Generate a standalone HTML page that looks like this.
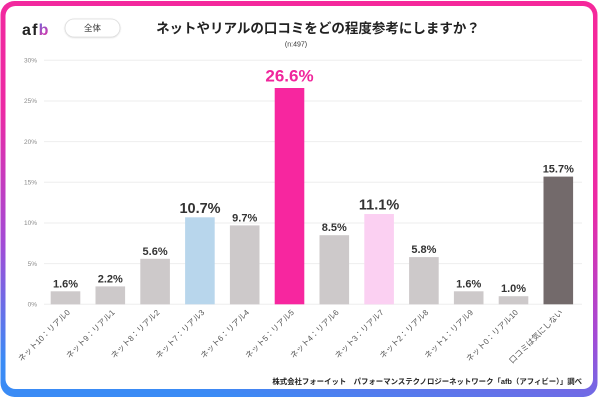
<!DOCTYPE html>
<html><head><meta charset="utf-8"><style>
html,body{margin:0;padding:0;background:#fff;}
svg{display:block;}
text{font-family:"Liberation Sans","Noto Sans CJK JP",sans-serif;}
</style></head><body>
<svg width="600" height="400" viewBox="0 0 600 400" xmlns="http://www.w3.org/2000/svg">
<defs>
<linearGradient id="fr" x1="0.62" y1="0" x2="0.38" y2="1">
<stop offset="0" stop-color="#f5289b"/>
<stop offset="0.4" stop-color="#ec2aa4"/>
<stop offset="0.72" stop-color="#a24bd6"/>
<stop offset="1" stop-color="#3a8bf5"/>
</linearGradient>
<linearGradient id="lb" x1="0" y1="0" x2="1" y2="1">
<stop offset="0" stop-color="#3d7ff0"/>
<stop offset="1" stop-color="#ee2a9e"/>
</linearGradient>
<filter id="sh" x="-20%" y="-40%" width="140%" height="180%">
<feDropShadow dx="0" dy="0.5" stdDeviation="0.8" flood-color="#000" flood-opacity="0.15"/>
</filter>
</defs>
<rect x="0.5" y="1" width="597" height="396" rx="14" fill="url(#fr)"/>
<rect x="5.5" y="6" width="587.5" height="383" rx="10" fill="#fff"/>

<!-- logo -->
<text x="22" y="35" font-size="16" font-weight="bold" fill="#222" letter-spacing="1.2">af<tspan fill="url(#lb)">b</tspan></text>
<rect x="65" y="19" width="55" height="18" rx="9" fill="#fff" stroke="#dcdcdc" stroke-width="0.8" filter="url(#sh)"/>
<text x="92.5" y="31" font-size="8.5" fill="#333" text-anchor="middle">全体</text>

<!-- title -->
<text x="318" y="33" font-size="13.5" font-weight="bold" fill="#222" text-anchor="middle">ネットやリアルの口コミをどの程度参考にしますか？</text>
<text x="296" y="46.5" font-size="7" fill="#333" text-anchor="middle">(n:497)</text>

<!-- grid -->
<g stroke="#eeeeee" stroke-width="1">
<line x1="44" y1="60.3" x2="582" y2="60.3"/>
<line x1="44" y1="101" x2="582" y2="101"/>
<line x1="44" y1="141.6" x2="582" y2="141.6"/>
<line x1="44" y1="182.3" x2="582" y2="182.3"/>
<line x1="44" y1="223" x2="582" y2="223"/>
<line x1="44" y1="263.6" x2="582" y2="263.6"/>
<line x1="44" y1="304.3" x2="582" y2="304.3"/>
</g>
<g font-size="6.5" fill="#8a8a8a" text-anchor="end">
<text x="37" y="62.5">30%</text>
<text x="37" y="103.2">25%</text>
<text x="37" y="143.8">20%</text>
<text x="37" y="184.5">15%</text>
<text x="37" y="225.2">10%</text>
<text x="37" y="265.8">5%</text>
<text x="37" y="306.5">0%</text>
</g>

<!-- bars -->
<rect x="50.7" y="291.3" width="29.6" height="13" fill="#cdc9ca"/>
<rect x="95.5" y="286.4" width="29.6" height="17.9" fill="#cdc9ca"/>
<rect x="140.3" y="258.8" width="29.6" height="45.5" fill="#cdc9ca"/>
<rect x="185.1" y="217.3" width="29.6" height="87" fill="#b8d6ec"/>
<rect x="229.9" y="225.4" width="29.6" height="78.9" fill="#cdc9ca"/>
<rect x="274.7" y="88" width="29.6" height="216.3" fill="#f7269f"/>
<rect x="319.5" y="235.2" width="29.6" height="69.1" fill="#cdc9ca"/>
<rect x="364.3" y="214" width="29.6" height="90.3" fill="#fbd0f2"/>
<rect x="409.1" y="257.1" width="29.6" height="47.2" fill="#cdc9ca"/>
<rect x="453.9" y="291.3" width="29.6" height="13" fill="#cdc9ca"/>
<rect x="498.7" y="296.2" width="29.6" height="8.1" fill="#cdc9ca"/>
<rect x="543.5" y="176.6" width="29.6" height="127.7" fill="#736a6b"/>

<!-- value labels -->
<g font-weight="bold" fill="#333" text-anchor="middle" font-size="11">
<text x="65.5" y="287.3">1.6%</text>
<text x="110.3" y="282.4">2.2%</text>
<text x="155.1" y="254.8">5.6%</text>
<text x="200" y="212.8" font-size="14.5">10.7%</text>
<text x="244.7" y="221.4">9.7%</text>
<text x="289.5" y="81.7" font-size="17" fill="#f0269c">26.6%</text>
<text x="334.3" y="231.2">8.5%</text>
<text x="379.1" y="209.6" font-size="14.5">11.1%</text>
<text x="423.9" y="253.1">5.8%</text>
<text x="468.7" y="287.3">1.6%</text>
<text x="513.5" y="292.2">1.0%</text>
<text x="558.3" y="172.6">15.7%</text>
</g>

<!-- x labels -->
<g font-size="8" fill="#555" text-anchor="end">
<text transform="translate(70.5,313) rotate(-45)">ネット10：リアル0</text>
<text transform="translate(115.3,313) rotate(-45)">ネット9：リアル1</text>
<text transform="translate(160.1,313) rotate(-45)">ネット8：リアル2</text>
<text transform="translate(204.9,313) rotate(-45)">ネット7：リアル3</text>
<text transform="translate(249.7,313) rotate(-45)">ネット6：リアル4</text>
<text transform="translate(294.5,313) rotate(-45)">ネット5：リアル5</text>
<text transform="translate(339.3,313) rotate(-45)">ネット4：リアル6</text>
<text transform="translate(384.1,313) rotate(-45)">ネット3：リアル7</text>
<text transform="translate(428.9,313) rotate(-45)">ネット2：リアル8</text>
<text transform="translate(473.7,313) rotate(-45)">ネット1：リアル9</text>
<text transform="translate(518.5,313) rotate(-45)">ネット0：リアル10</text>
<text transform="translate(563.3,313) rotate(-45)">口コミは気にしない</text>
</g>

<!-- footer -->
<text x="582" y="384" font-size="7.4" font-weight="bold" fill="#222" text-anchor="end">株式会社フォーイット　パフォーマンステクノロジーネットワーク「afb（アフィビー）」調べ</text>
</svg>
</body></html>
